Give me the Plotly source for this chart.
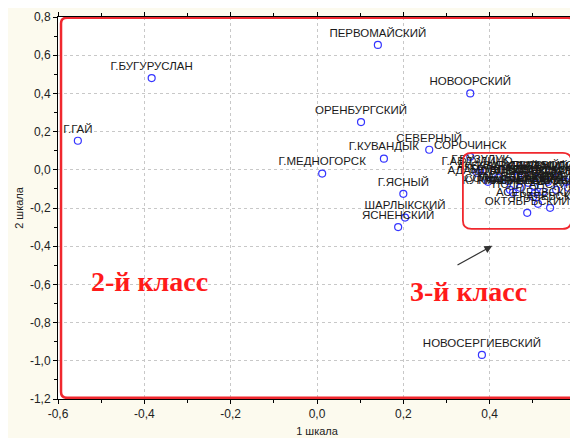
import plotly.graph_objects as go

# ---------------- data ----------------
names = [
    "Г.ГАЙ", "Г.БУГУРУСЛАН", "ПЕРВОМАЙСКИЙ", "НОВООРСКИЙ", "ОРЕНБУРГСКИЙ",
    "СЕВЕРНЫЙ", "СОРОЧИНСК", "Г.КУВАНДЫК", "Г.МЕДНОГОРСК", "Г.ЯСНЫЙ",
    "ШАРЛЫКСКИЙ", "ЯСНЕНСКИЙ", "НОВОСЕРГИЕВСКИЙ",
    "Г.АБДУЛИНО", "Г.БУЗУЛУК", "СОЛЬ-ИЛЕЦКИЙ", "КУРМАНАЕВСКИЙ", "МАТВЕЕВСКИЙ",
    "ТОЦКИЙ", "САРАКТАШСКИЙ", "ТЮЛЬГАНСКИЙ", "АСЕКЕЕВСКИЙ", "ГРАЧЕВСКИЙ",
    "ОКТЯБРЬСКИЙ", "АДАМОВСКИЙ", "АКБУЛАКСКИЙ", "БЕЛЯЕВСКИЙ", "КВАРКЕНСКИЙ",
    "ДОМБАРОВСКИЙ", "ИЛЕКСКИЙ", "АЛЕКСАНДРОВСКИЙ", "ПЕРЕВОЛОЦКИЙ",
    "ПОНОМАРЕВСКИЙ", "ТАШЛИНСКИЙ", "САКМАРСКИЙ", "СВЕТЛИНСКИЙ",
    "КРАСНОГВАРДЕЙСКИЙ",
]
scale1 = [
    -0.554, -0.383, 0.141, 0.355, 0.102,
    0.260, 0.355, 0.155, 0.012, 0.200,
    0.204, 0.188, 0.382,
    0.371, 0.378, 0.447, 0.454, 0.470,
    0.503, 0.505, 0.501, 0.512, 0.540,
    0.487, 0.396, 0.419, 0.443, 0.466,
    0.489, 0.512, 0.535, 0.559,
    0.577, 0.593, 0.554, 0.582,
    0.524,
]
scale2 = [
    0.152, 0.480, 0.654, 0.400, 0.250,
    0.105, 0.068, 0.058, -0.020, -0.126,
    -0.250, -0.300, -0.969,
    -0.016, -0.005, -0.105, -0.120, -0.094,
    -0.089, -0.120, -0.141, -0.178, -0.199,
    -0.225, -0.063, -0.042, -0.058, -0.037,
    -0.068, -0.042, -0.063, -0.037,
    -0.063, -0.042, -0.105, -0.094,
    -0.115,
]

x_tickvals = [-0.6, -0.4, -0.2, 0.0, 0.2, 0.4, 0.6]
x_ticktext = ["-0,6", "-0,4", "-0,2", "0,0", "0,2", "0,4", "0,6"]
y_tickvals = [-1.2, -1.0, -0.8, -0.6, -0.4, -0.2, 0.0, 0.2, 0.4, 0.6, 0.8]
y_ticktext = ["-1,2", "-1,0", "-0,8", "-0,6", "-0,4", "-0,2", "0,0", "0,2", "0,4", "0,6", "0,8"]

class_labels = ["2-й класс", "3-й класс"]
class_x = [-0.389, 0.35]
class_y = [-0.586, -0.639]

# ---------------- figure ----------------
fig = go.Figure()
fig.add_trace(go.Scatter(
    x=scale1, y=scale2, text=names,
    mode="markers+text", textposition="top center",
    textfont=dict(family="Liberation Sans, Arial", size=11.5, color="#1a1a1a"),
    marker=dict(symbol="circle-open", size=7, color="#3535ff", line=dict(width=1.2)),
    cliponaxis=True, showlegend=False, hoverinfo="text",
))

red = "#f0282e"

def rounded_path(x0, y0, x1, y1, rx, ry):
    return (f"M {x0+rx},{y1} L {x1-rx},{y1} Q {x1},{y1} {x1},{y1-ry} "
            f"L {x1},{y0+ry} Q {x1},{y0} {x1-rx},{y0} "
            f"L {x0+rx},{y0} Q {x0},{y0} {x0},{y0+ry} "
            f"L {x0},{y1-ry} Q {x0},{y1} {x0+rx},{y1} Z")

shapes = [
    dict(type="path", xref="x", yref="y",
         path=rounded_path(-0.593, -1.194, 0.595, 0.796, 0.014, 0.03),
         line=dict(color=red, width=2.5), layer="above"),
    dict(type="path", xref="x", yref="y",
         path=rounded_path(0.338, -0.309, 0.589, 0.089, 0.02, 0.044),
         line=dict(color=red, width=1.8), layer="above"),
]

annotations = [
    dict(x=0.406, y=-0.398, ax=0.322, ay=-0.503, xref="x", yref="y", axref="x", ayref="y",
         text="", showarrow=True, arrowhead=2, arrowsize=1.3, arrowwidth=1.2, arrowcolor="#333333"),
]
for t, cx, cy in zip(class_labels, class_x, class_y):
    annotations.append(dict(x=cx, y=cy, xref="x", yref="y", text=t, showarrow=False,
                            font=dict(family="Liberation Serif, Times New Roman", size=28,
                                      color="#ff1a1a", weight="bold")))

axis_common = dict(
    showgrid=True, gridcolor="#c8c8c8", griddash="dot", gridwidth=1,
    zeroline=False, showline=True, linecolor="#000000", linewidth=1, mirror="ticks",
    ticks="outside", ticklen=4, tickcolor="#000000", automargin=False,
    tickfont=dict(family="Liberation Sans, Arial", size=12, color="#222222"),
    minor=dict(ticks="outside", ticklen=3, tickcolor="#000000", dtick=0.1, showgrid=False),
)

fig.update_layout(
    width=570, height=430,
    margin=dict(l=50, r=2, t=9, b=39),
    paper_bgcolor="#fcfaee", plot_bgcolor="#ffffff",
    shapes=shapes, annotations=annotations,
    xaxis=dict(range=[-0.6, 0.6], tickvals=x_tickvals, ticktext=x_ticktext,
               title=dict(text="1 шкала", standoff=6,
                          font=dict(family="Liberation Sans, Arial", size=11, color="#222222")),
               **axis_common),
    yaxis=dict(range=[-1.2, 0.8], tickvals=y_tickvals, ticktext=y_ticktext,
               title=dict(text="2 шкала", standoff=4,
                          font=dict(family="Liberation Sans, Arial", size=11, color="#222222")),
               **axis_common),
)

fig.write_html("out.html")
